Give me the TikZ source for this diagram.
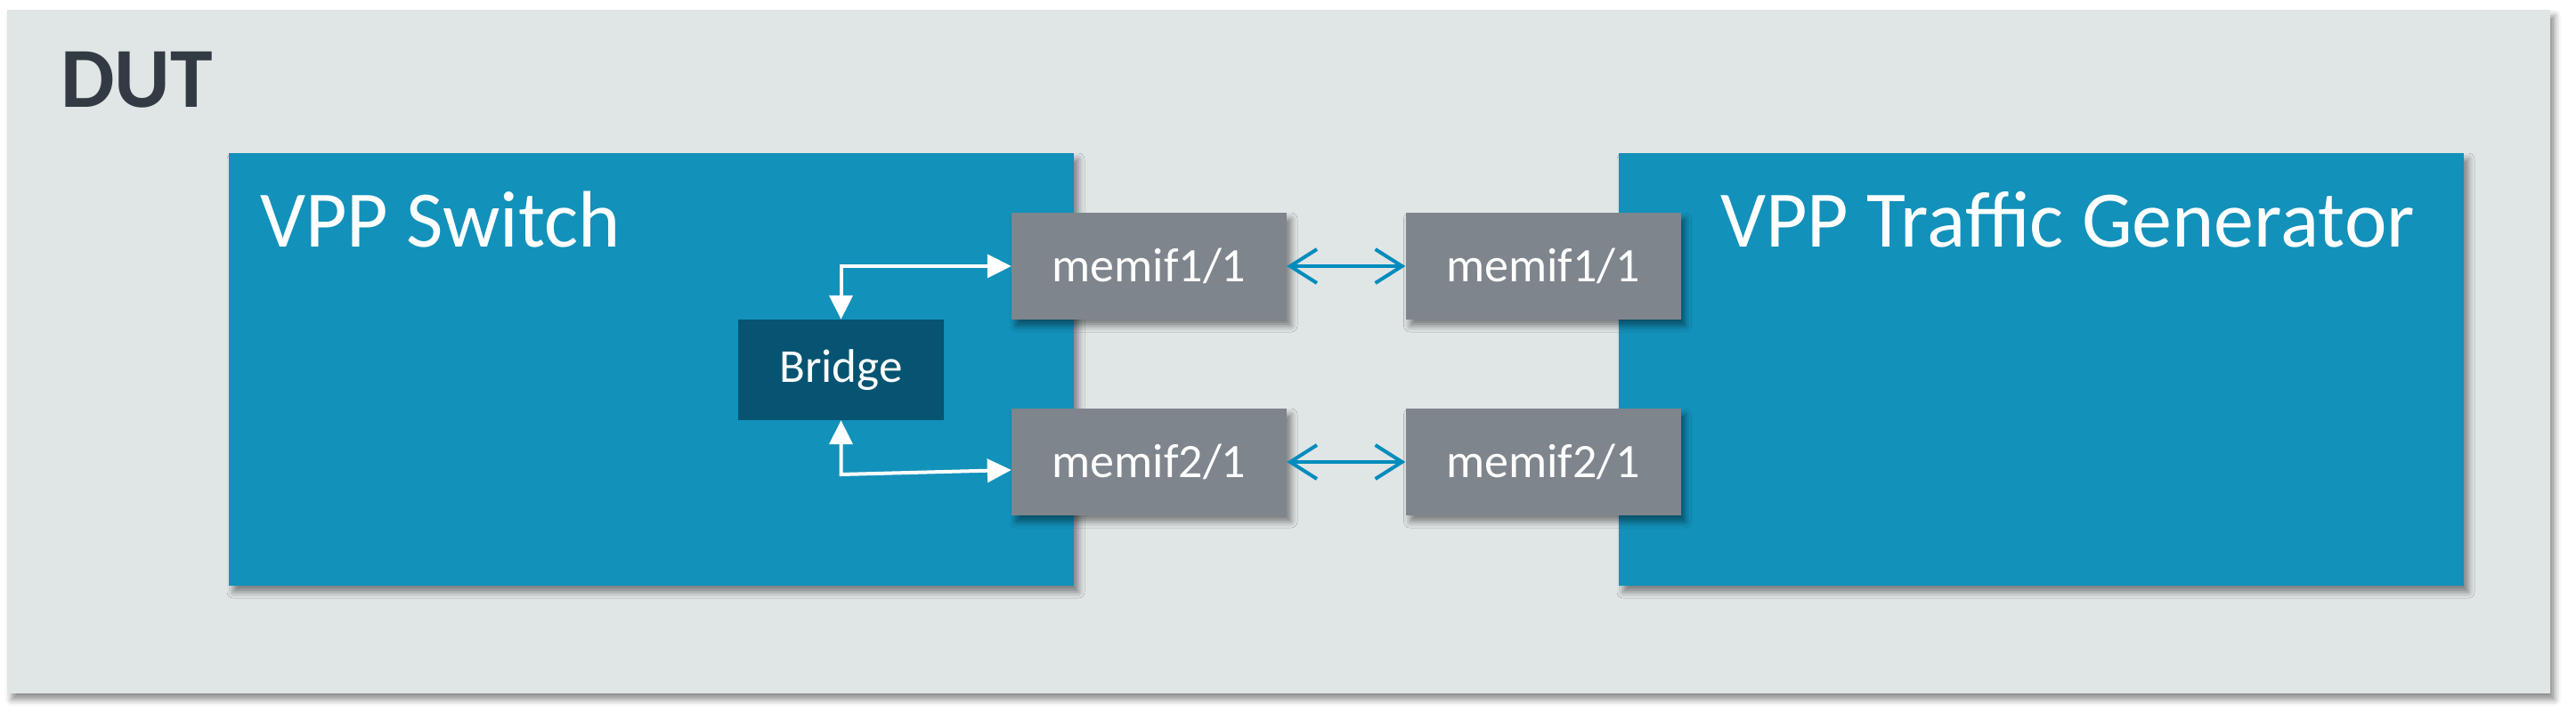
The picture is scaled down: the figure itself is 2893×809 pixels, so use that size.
\documentclass[tikz,border=0pt]{standalone}
\usepackage{fontspec}
\setmainfont{Carlito}
\usetikzlibrary{arrows.meta,shadows.blur}
\definecolor{bgc}{RGB}{224,229,229}
\definecolor{vppblue}{RGB}{18,145,186}
\definecolor{bridgec}{RGB}{6,84,114}
\definecolor{memc}{RGB}{127,133,140}
\definecolor{arrowblue}{RGB}{0,140,190}
\definecolor{dutc}{RGB}{50,58,68}
\tikzset{
  shd/.style={blur shadow={shadow xshift=5pt,shadow yshift=-7pt,shadow blur radius=7pt,shadow opacity=45}},
  outerbox/.style={fill=bgc,draw=none,shd,inner sep=0pt,minimum width=2856pt,minimum height=768pt},
  vppbox/.style={fill=vppblue,draw=none,shd,inner sep=0pt,minimum width=949pt,minimum height=486pt},
  memifbox/.style={fill=memc,draw=none,shd,inner sep=0pt,minimum width=309pt,minimum height=120pt,text=white,font=\fontsize{54}{60}\selectfont},
  bridgebox/.style={fill=bridgec,draw=none,inner sep=0pt,minimum width=231pt,minimum height=113pt,text=white,font=\fontsize{53}{60}\selectfont},
  title/.style={inner sep=0pt,anchor=base west,text=white,font=\fontsize{90}{100}\selectfont},
  warrow/.style={draw=white,line width=4pt,{Triangle[length=27pt,width=26pt]}-{Triangle[length=27pt,width=26pt]}},
  barrow/.style={draw=arrowblue,line width=4pt,{Straight Barb[length=30pt,width=38pt]}-{Straight Barb[length=30pt,width=38pt]}}
}
\begin{document}
\begin{tikzpicture}[x=1pt,y=-1pt]
\useasboundingbox (0,0) rectangle (2893,809);
\node[outerbox] (dut) at (1436,395) {};
\node[inner sep=0pt,anchor=base west,text=dutc,font=\bfseries\fontsize{96}{100}\selectfont] (dutlabel) at (68,120) {DUT};
\node[vppbox] (sw) at (731.5,415) {};
\node[vppbox] (gen) at (2292.5,415) {};
\node[title] (swlabel) at (292,277) {VPP Switch};
\node[title] (genlabel) at (1932,277) {VPP Traffic Generator};
\node[bridgebox] (bridge) at (944.5,415.5) {Bridge};
\node[memifbox] (m1l) at (1290.5,299) {memif1/1};
\node[memifbox] (m2l) at (1290.5,519) {memif2/1};
\node[memifbox] (m1r) at (1733,299) {memif1/1};
\node[memifbox] (m2r) at (1733,519) {memif2/1};
\coordinate (bc) at (944.5,533);
\draw[warrow] (m1l.west) -| (bridge.north);
\draw[warrow] (bridge.south) -- (bc) -- ([yshift=-9pt]m2l.west);
\draw[barrow] (m1l.east) -- (m1r.west);
\draw[barrow] (m2l.east) -- (m2r.west);
\end{tikzpicture}
\end{document}
